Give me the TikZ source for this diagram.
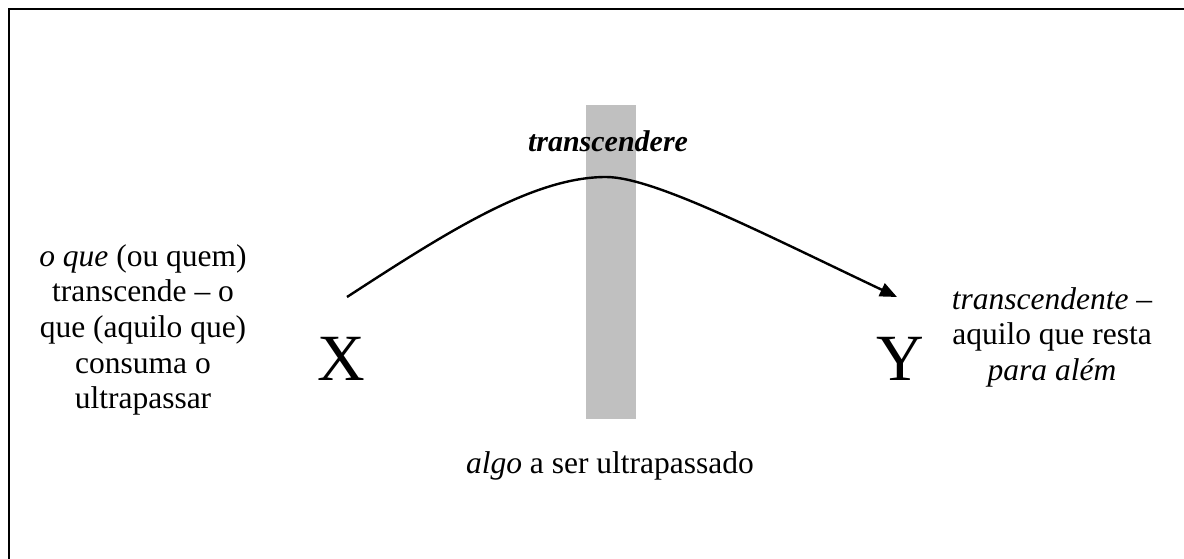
\documentclass[tikz,border=0pt]{standalone}
\usepackage{fontspec}
\setmainfont{Liberation Serif}
\usetikzlibrary{arrows.meta}
\definecolor{bargray}{RGB}{192,192,192}
\tikzset{
  txt/.style={inner sep=0,align=center,font={\fontsize{31.5}{35.7}\selectfont}},
  bigletter/.style={inner sep=0,anchor=base,font={\fontsize{66}{70}\selectfont}}
}

\begin{document}
\begin{tikzpicture}[x=1pt,y=-1pt]
\useasboundingbox (0,0) rectangle (1184,559);

% frame, top and left side only
\draw[line width=2.5pt] (1184,9) -- (9,9) -- (9,559);

% what is to be passed over
\fill[bargray] (586,105) rectangle (636,419);

% X and Y
\node[bigletter] (x) at (341,380) {X};
\node[bigletter] (y) at (900,380) {Y};

% the arc from X to Y
\coordinate (arcstart) at (347,297);
\coordinate (arctop) at (606,177);
\coordinate (arcend) at (897,297);
\draw[line width=2.4pt,-{Triangle[length=17pt,width=14pt]}]
  (arcstart) .. controls (447,232) and (533,177) .. (arctop)
  .. controls (653,177) and (760,232) .. (arcend);

% labels
\node[txt,anchor=base,font={\fontsize{30}{34}\selectfont\bfseries\itshape}] (verb) at (608,152) {transcendere};
\node[txt,anchor=north] (left) at (143,244)
  {\textit{o que} (ou quem)\\ transcende -- o\\ que (aquilo que)\\ consuma o\\ ultrapassar};
\node[txt,anchor=north] (right) at (1052,287)
  {\textit{transcendente} --\\ aquilo que resta\\ \textit{para além}};
\node[txt,anchor=base] (below) at (610,473) {\textit{algo} a ser ultrapassado};

\end{tikzpicture}
\end{document}
